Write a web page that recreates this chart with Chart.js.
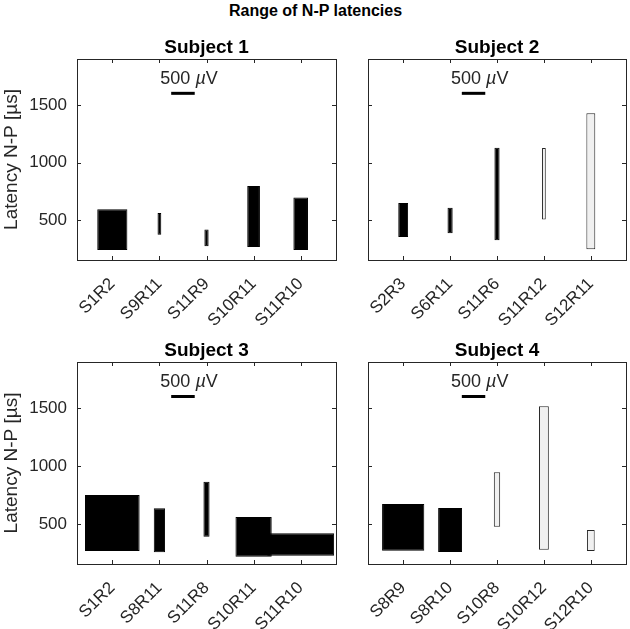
<!DOCTYPE html>
<html lang="en">
<head>
  <meta charset="UTF-8" />
  <title>Range of N-P latencies</title>
  <script src="https://cdn.jsdelivr.net/npm/chart.js"></script>
  <style>
    body { margin: 0; background: #fff; font-family: "Liberation Sans", Arial, sans-serif; overflow: hidden; }
    #wrap { position: relative; width: 630px; height: 629px; }
    #title { position: absolute; left: 0; top: 2px; width: 631px; text-align: center; font-weight: bold; font-size: 16px; color: #000; }
    canvas { position: absolute; }
  </style>
</head>
<body>
  <div id="wrap">
    <div id="title">Range of N-P latencies</div>
    <canvas id="c1" width="340" height="303" style="left:0;top:30px"></canvas>
    <canvas id="c2" width="290" height="303" style="left:340px;top:30px"></canvas>
    <canvas id="c3" width="340" height="296" style="left:0;top:333px"></canvas>
    <canvas id="c4" width="290" height="296" style="left:340px;top:333px"></canvas>
  </div>

  <script>
    // latency ranges (µs), amplitude (µV) sets the bar width, light = 1 for grey bars
    const cats1 = ['S1R2', 'S9R11', 'S11R9', 'S10R11', 'S11R10'];
    const lo1 = [245, 376, 278, 270, 244];
    const hi1 = [597, 565, 422, 798, 698];
    const amp1 = [640, 80, 90, 270, 310];
    const light1 = [0, 0, 0, 0, 0];

    const cats2 = ['S2R3', 'S6R11', 'S11R6', 'S11R12', 'S12R11'];
    const lo2 = [356, 390, 328, 509, 250];
    const hi2 = [652, 609, 1129, 1126, 1428];
    const amp2 = [210, 110, 110, 80, 190];
    const light2 = [0, 0, 0, 1, 1];

    const cats3 = ['S1R2', 'S8R11', 'S11R8', 'S10R11', 'S11R10'];
    const lo3 = [270, 259, 393, 221, 229];
    const hi3 = [753, 638, 867, 563, 422];
    const amp3 = [1160, 240, 130, 770, 1420];
    const light3 = [0, 0, 0, 0, 0];

    const cats4 = ['S8R9', 'S8R10', 'S10R8', 'S10R12', 'S12R10'];
    const lo4 = [272, 261, 479, 281, 270];
    const hi4 = [675, 640, 948, 1517, 451];
    const amp4 = [900, 510, 135, 210, 165];
    const light4 = [0, 0, 1, 1, 1];

    const yTicks = [500, 1000, 1500];
    const scaleBarX = [2.25, 2.75];
    const scaleBarY = 1600;

    const FONT = '"Liberation Sans", Arial, sans-serif';
    const AXC = '#262626';

    // box, inward ticks, subplot title and scale bar label
    const framePlugin = {
      id: 'frame',
      afterDraw(chart, args, opts) {
        const ctx = chart.ctx;
        const a = chart.chartArea;
        const xs = chart.scales.x, ys = chart.scales.y;
        ctx.save();
        ctx.strokeStyle = AXC;
        ctx.lineWidth = 1;
        ctx.strokeRect(Math.round(a.left) + 0.5, Math.round(a.top) + 0.5,
          Math.round(a.right - a.left), Math.round(a.bottom - a.top));
        ctx.beginPath();
        xs.ticks.forEach(t => {
          const px = Math.round(xs.getPixelForValue(t.value)) + 0.5;
          ctx.moveTo(px, a.bottom); ctx.lineTo(px, a.bottom - 4);
          ctx.moveTo(px, a.top); ctx.lineTo(px, a.top + 4);
        });
        ys.ticks.forEach(t => {
          const py = Math.round(ys.getPixelForValue(t.value)) + 0.5;
          ctx.moveTo(a.left, py); ctx.lineTo(a.left + 4, py);
          ctx.moveTo(a.right, py); ctx.lineTo(a.right - 4, py);
        });
        ctx.stroke();

        ctx.fillStyle = '#000';
        ctx.font = 'bold 19px ' + FONT;
        ctx.textAlign = 'center';
        ctx.textBaseline = 'alphabetic';
        ctx.fillText(opts.title, (a.left + a.right) / 2, a.top - 6);

        // "500 µV" with italic mu
        const tx = xs.getPixelForValue(2.02);
        const ty = ys.getPixelForValue(1680);
        ctx.textAlign = 'left';
        ctx.fillStyle = AXC;
        const parts = [['500 ', ''], ['µ', 'italic '], ['V', '']];
        let cx = tx;
        parts.forEach(([s, st]) => {
          ctx.font = st + '18px ' + FONT;
          ctx.fillText(s, cx, ty);
          cx += ctx.measureText(s).width;
        });
        ctx.restore();
      }
    };

    function makeChart(id, cats, lo, hi, amp, light, title, showY, padTop, yWidth, xHeight) {
      const datasets = cats.map((c, i) => ({
        type: 'bar',
        data: [{ x: i + 1, y: [lo[i], hi[i]] }],
        backgroundColor: light[i] ? '#f0f0f0' : '#000',
        borderColor: light[i] ? AXC : '#000',
        borderWidth: 1,
        borderSkipped: false,
        grouped: false,
        categoryPercentage: 1,
        barPercentage: amp[i] / 1000
      }));
      datasets.push({
        type: 'line',
        data: scaleBarX.map(x => ({ x, y: scaleBarY })),
        borderColor: '#000',
        borderWidth: 3,
        pointRadius: 0
      });

      return new Chart(document.getElementById(id), {
        type: 'bar',
        data: { datasets },
        plugins: [framePlugin],
        options: {
          responsive: false,
          animation: false,
          layout: { padding: { top: padTop, right: 4, left: 0, bottom: 0 } },
          plugins: {
            legend: { display: false },
            tooltip: { enabled: false },
            frame: { title }
          },
          scales: {
            x: {
              type: 'linear',
              offset: false,
              min: 0.25,
              max: 5.75,
              grid: { display: false, offset: false },
              border: { display: false },
              afterBuildTicks: s => { s.ticks = cats.map((c, i) => ({ value: i + 1 })); },
              afterFit: s => { s.height = xHeight; },
              ticks: {
                autoSkip: false,
                maxRotation: 45,
                minRotation: 45,
                padding: 6,
                color: AXC,
                font: { family: FONT, size: 17 },
                callback: v => cats[Math.round(v) - 1]
              }
            },
            y: {
              min: 158,
              max: 1897,
              grid: { display: false },
              border: { display: false },
              afterBuildTicks: s => { s.ticks = yTicks.map(v => ({ value: v })); },
              afterFit: s => { s.width = yWidth; },
              ticks: {
                display: showY,
                padding: 2,
                color: AXC,
                font: { family: FONT, size: 17 },
                callback: v => String(v)
              },
              title: {
                display: showY,
                text: 'Latency N-P [µs]',
                color: AXC,
                padding: 0,
                font: { family: FONT, size: 19 }
              }
            }
          }
        }
      });
    }

    makeChart('c1', cats1, lo1, hi1, amp1, light1, 'Subject 1', true, 29, 77, 73);
    makeChart('c2', cats2, lo2, hi2, amp2, light2, 'Subject 2', false, 29, 28, 73);
    makeChart('c3', cats3, lo3, hi3, amp3, light3, 'Subject 3', true, 29, 77, 65);
    makeChart('c4', cats4, lo4, hi4, amp4, light4, 'Subject 4', false, 29, 28, 65);
  </script>
</body>
</html>
